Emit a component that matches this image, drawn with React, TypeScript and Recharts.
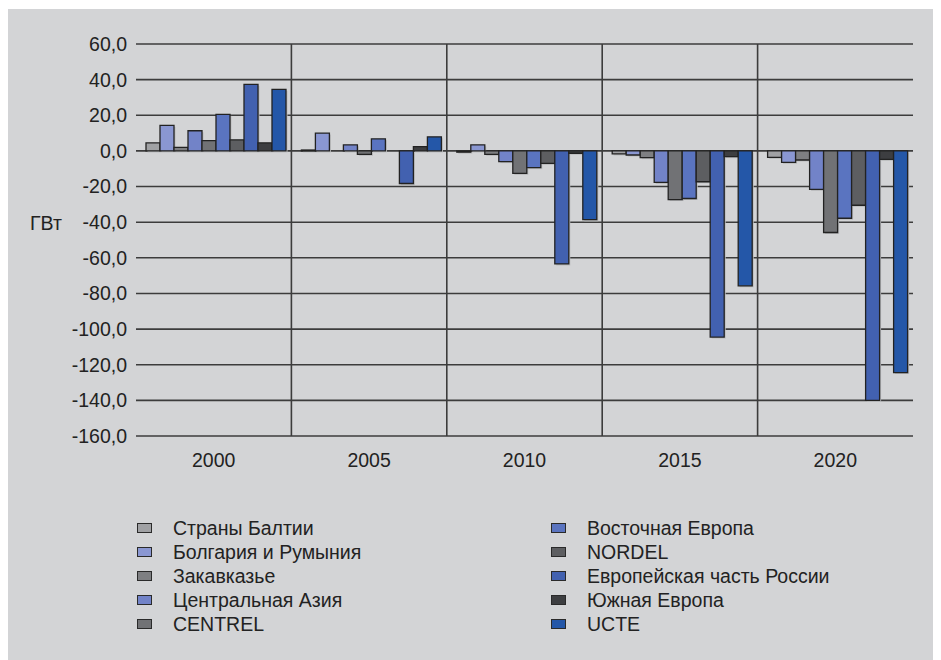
import React from 'react';
import { BarChart, Bar, XAxis, YAxis, CartesianGrid, ReferenceLine, Rectangle } from 'recharts';

const categories = ['2000', '2005', '2010', '2015', '2020'];

const baltic = [4.5, 0.5, -0.7, -1.7, -3.6];
const bulgariaRomania = [14.3, 10, 3.4, -2.3, -6.4];
const transcaucasia = [2, 0, -1.9, -3.8, -5.1];
const centralAsia = [11.3, 3.4, -6, -17.7, -21.6];
const centrel = [5.8, -1.9, -12.6, -27.3, -45.8];
const eastEurope = [20.5, 6.8, -9.4, -26.7, -37.8];
const nordel = [6.2, 0, -7, -17.3, -30.5];
const euRussia = [37.3, -18.3, -63.4, -104.5, -140];
const southEurope = [4.5, 2.4, -1.3, -3.2, -4.7];
const ucte = [34.5, 7.9, -38.6, -75.7, -124.4];

const seriesNames = [
  'Страны Балтии',
  'Болгария и Румыния',
  'Закавказье',
  'Центральная Азия',
  'CENTREL',
  'Восточная Европа',
  'NORDEL',
  'Европейская часть России',
  'Южная Европа',
  'UCTE',
];
const seriesValues = [baltic, bulgariaRomania, transcaucasia, centralAsia, centrel, eastEurope, nordel, euRussia, southEurope, ucte];
const seriesColors = ['#a0a1a4', '#8a97d2', '#7e7f82', '#7283c8', '#717275', '#5a74c0', '#5d5e61', '#4261b0', '#3d3e41', '#2457a8'];

const yTicks = [60, 40, 20, 0, -20, -40, -60, -80, -100, -120, -140, -160];

const data = categories.map((c, i) => {
  const row: Record<string, string | number> = { year: c };
  seriesNames.forEach((_, j) => {
    row['s' + j] = seriesValues[j][i];
  });
  return row;
});

const FONT = '"Liberation Sans", Arial, Helvetica, sans-serif';
const FS = 19.5;
const TEXT = '#222222';
const LINE = '#3c3c3c';

const OutlinedBar = (props: any) => {
  const { x, y, width, height, fill } = props;
  if (!height || Math.abs(height) < 0.01) return null;
  return (
    <g>
      <Rectangle x={x + 1.5} y={y + 1.5} width={width} height={height} fill="#b9babc" stroke="none" />
      <Rectangle x={x} y={y} width={width} height={height} fill={fill} stroke="#222222" strokeWidth={1.3} />
    </g>
  );
};

export default function App() {
  const leftCol = seriesNames.slice(0, 5).map((n, i) => ({ n, c: seriesColors[i] }));
  const rightCol = seriesNames.slice(5).map((n, i) => ({ n, c: seriesColors[i + 5] }));
  const renderCol = (items: { n: string; c: string }[], left: number) => (
    <div style={{ position: 'absolute', left, top: 507 }}>
      {items.map((it) => (
        <div key={it.n} style={{ display: 'flex', alignItems: 'center', height: 24 }}>
          <div
            style={{
              width: 13,
              height: 8,
              background: it.c,
              border: '1px solid #2a2a2a',
              marginRight: 21,
            }}
          />
          <span style={{ fontFamily: FONT, fontSize: FS, color: TEXT, whiteSpace: 'nowrap' }}>{it.n}</span>
        </div>
      ))}
    </div>
  );

  return (
    <div
      style={{
        position: 'relative',
        width: 933,
        height: 651,
        marginTop: 1,
        background: '#d3d4d6',
        fontFamily: FONT,
      }}
    >
      <BarChart
        width={933}
        height={651}
        data={data}
        margin={{ top: 35, right: 28, bottom: 194, left: 0 }}
        barCategoryGap={10}
        barGap={0}
      >
        <CartesianGrid vertical={false} stroke={LINE} strokeWidth={1.6} />
        <XAxis
          dataKey="year"
          axisLine={false}
          tickLine={false}
          height={30}
          tickMargin={11}
          tick={{ fill: TEXT, fontSize: FS, fontFamily: FONT }}
        />
        <YAxis
          width={128}
          domain={[-160, 60]}
          ticks={yTicks}
          interval={0}
          axisLine={false}
          tickLine={false}
          tickMargin={3}
          tickFormatter={(v: number) => v.toFixed(1).replace('.', ',')}
          tick={{ fill: TEXT, fontSize: FS, fontFamily: FONT }}
          label={{ value: 'ГВт', position: 'insideLeft', offset: 22, dy: -17, fill: TEXT, fontSize: FS, fontFamily: FONT }}
        />
        {categories.slice(1).map((c) => (
          <ReferenceLine key={c} x={c} position="start" stroke={LINE} strokeWidth={1.6} />
        ))}
        {seriesNames.map((n, j) => (
          <Bar
            key={n}
            dataKey={'s' + j}
            name={n}
            fill={seriesColors[j]}
            shape={OutlinedBar}
            isAnimationActive={false}
          />
        ))}
      </BarChart>
      {renderCol(leftCol, 129)}
      {renderCol(rightCol, 543)}
    </div>
  );
}
